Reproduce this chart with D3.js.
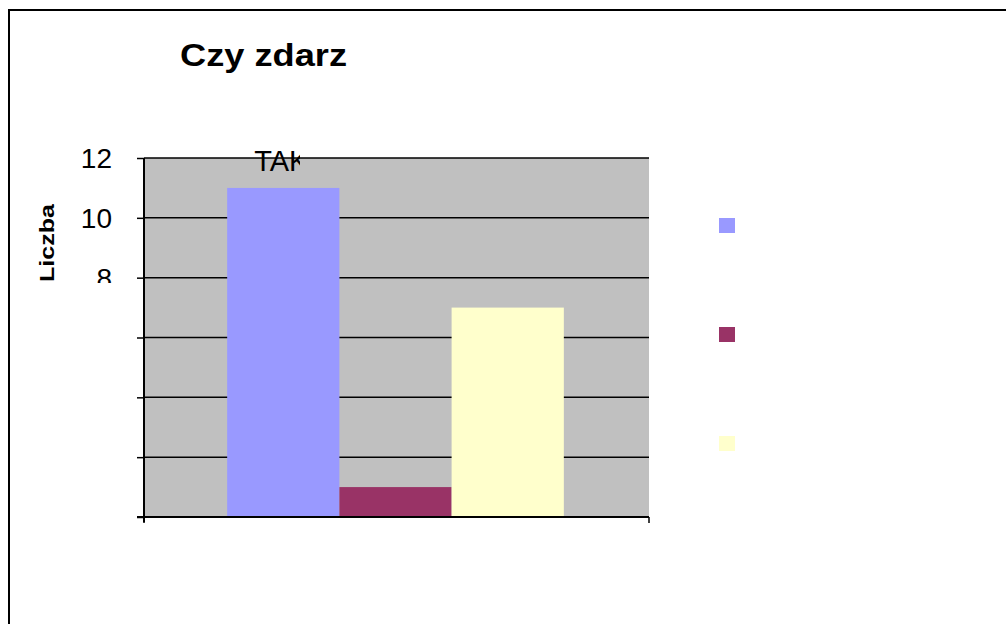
<!DOCTYPE html>
<html><head><meta charset="utf-8">
<script src="https://cdn.jsdelivr.net/npm/d3@7"></script>
<style>body{margin:0;background:#fff;overflow:hidden}svg{display:block;font-family:"Liberation Sans",Arial,sans-serif}</style>
</head><body>
<script>
const titleText = "Czy zdarz";
const yAxisTitle = "Liczba";
const seriesNames = ["TAK", "NIE", "NIE WIEM"];
const seriesValues = [11, 1, 7];
const seriesColors = ["#9999FF", "#993366", "#FFFFCC"];
const yTicks = [0, 2, 4, 6, 8, 10, 12];

const W = 1006, H = 624;
const svg = d3.select("body").append("svg").attr("width", W).attr("height", H);
const defs = svg.append("defs");

// outer chart border
svg.append("rect").attr("x", 9).attr("y", 10).attr("width", 1100).attr("height", 700)
  .attr("fill", "#fff").attr("stroke", "#000").attr("stroke-width", 2);

const plot = {l: 144, r: 649, t: 158, b: 517};
const y = d3.scaleLinear().domain([0, 12]).range([plot.b, plot.t]);
const x = d3.scaleBand().domain(seriesNames).range([plot.l, plot.r]).paddingInner(0).paddingOuter(0.75);

// plot area
svg.append("rect").attr("x", plot.l).attr("y", plot.t).attr("width", plot.r - plot.l).attr("height", plot.b - plot.t)
  .attr("fill", "#C0C0C0");

// gridlines
svg.append("g").selectAll("line").data(yTicks.filter(d => d > 0)).join("line")
  .attr("x1", plot.l).attr("x2", plot.r).attr("y1", d => y(d)).attr("y2", d => y(d))
  .attr("stroke", "#000").attr("stroke-width", 1.5);

// bars
svg.append("g").selectAll("rect").data(seriesValues).join("rect")
  .attr("x", (d, i) => x(seriesNames[i]) - 1).attr("width", x.bandwidth())
  .attr("y", d => y(d)).attr("height", d => y(0) - y(d))
  .attr("fill", (d, i) => seriesColors[i]);

// y axis
const yAxis = d3.axisLeft(y).tickValues(yTicks).tickSize(7).tickFormat("");
const gy = svg.append("g").attr("transform", `translate(${plot.l},0)`).call(yAxis);
gy.select(".domain").attr("d", `M0,${plot.t}V${plot.b + 5}`).attr("stroke", "#000").attr("stroke-width", 2);
gy.selectAll(".tick line").attr("stroke", "#000").attr("stroke-width", 1.5);

// x axis baseline with category-boundary ticks
const gx = svg.append("g");
gx.append("line").attr("x1", plot.l - 7).attr("x2", plot.r).attr("y1", plot.b).attr("y2", plot.b)
  .attr("stroke", "#000").attr("stroke-width", 2);
gx.selectAll("line.t").data([plot.l, plot.r]).join("line").attr("class", "t")
  .attr("x1", d => d).attr("x2", d => d).attr("y1", plot.b).attr("y2", plot.b + 6)
  .attr("stroke", "#000").attr("stroke-width", 1.5);

// y tick labels (clipped as in the reference)
defs.append("clipPath").attr("id", "clipTicks").append("rect").attr("x", 0).attr("y", 0).attr("width", 140).attr("height", 283);
svg.append("g").attr("clip-path", "url(#clipTicks)").selectAll("text").data(yTicks).join("text")
  .attr("x", 112).attr("y", d => y(d)).attr("dy", "0.36em").attr("text-anchor", "end")
  .attr("font-size", 28).attr("fill", "#000").text(d => d);

// y axis title (clipped)
defs.append("clipPath").attr("id", "clipYT").append("rect").attr("x", 36).attr("y", 204).attr("width", 22).attr("height", 79);
svg.append("g").attr("clip-path", "url(#clipYT)").append("text")
  .attr("transform", `translate(54,243) rotate(-90)`)
  .attr("text-anchor", "middle").attr("font-size", 20).attr("font-weight", "bold")
  .attr("textLength", 78).attr("lengthAdjust", "spacingAndGlyphs").text(yAxisTitle);

// data label (clipped)
defs.append("clipPath").attr("id", "clipLbl").append("rect").attr("x", 200).attr("y", 130).attr("width", 100).attr("height", 60);
svg.append("g").attr("clip-path", "url(#clipLbl)").append("text")
  .attr("x", x(seriesNames[0]) + x.bandwidth() / 2 - 3).attr("y", 171).attr("text-anchor", "middle")
  .attr("font-size", 29).text(seriesNames[0]);

// title
svg.append("text").attr("x", 180).attr("y", 66).attr("font-size", 32).attr("font-weight", "bold")
  .attr("textLength", 167).attr("lengthAdjust", "spacingAndGlyphs").text(titleText);

// legend keys
const legY = d3.scalePoint().domain(seriesNames).range([218, 436]);
svg.append("g").selectAll("rect").data(seriesNames).join("rect")
  .attr("x", 719).attr("y", d => legY(d)).attr("width", 16).attr("height", 15)
  .attr("fill", (d, i) => seriesColors[i]);
</script>
</body></html>
